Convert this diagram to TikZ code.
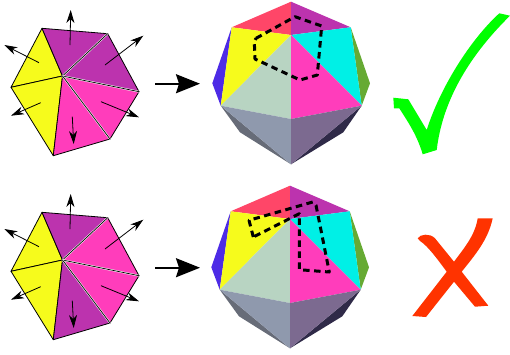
\documentclass[tikz,border=0pt]{standalone}
\usepackage{tikz}
\usetikzlibrary{arrows.meta}

\definecolor{faceyellow}{HTML}{F6FB1C}
\definecolor{facepurple}{HTML}{BC33AE}
\definecolor{facepink}{HTML}{FF3DBB}
\definecolor{facered}{HTML}{FF4668}
\definecolor{facecyan}{HTML}{00F0E6}
\definecolor{facepale}{HTML}{B8D4C2}
\definecolor{faceblue}{HTML}{4D2BE6}
\definecolor{facegreen}{HTML}{66AA33}
\definecolor{lowgrey}{HTML}{8F99AD}
\definecolor{lowmauve}{HTML}{7C6A90}
\definecolor{lowslate}{HTML}{676C78}
\definecolor{lowdark}{HTML}{2F2A48}
\definecolor{checkgreen}{HTML}{00FF00}
\definecolor{crossred}{HTML}{FF3300}

% flat net: colours of top, upper right, lower right and bottom faces
\newcommand{\flatnet}[4]{
	\coordinate (hub) at (62.5,76);
	\coordinate (nA) at (42,28.3);
	\coordinate (nB) at (107.7,33.7);
	\coordinate (nC) at (139,91.7);
	\coordinate (nD) at (110,139);
	\coordinate (nE) at (53.3,155.7);
	\coordinate (nF) at (11,87.3);
	\path [netface, fill=faceyellow] (hub) -- (nA) -- (nF) -- cycle;
	\path [netface, fill=faceyellow] (hub) -- (nF) -- (nE) -- cycle;
	\path [netface, fill=#1] (hub) -- (nA) -- (nB) -- cycle;
	\path [netface, fill=#2] (hub) -- (nB) -- (nC) -- cycle;
	\path [netface, fill=#3] (hub) -- (nC) -- (nD) -- cycle;
	\path [netface, fill=#4] (hub) -- (nD) -- (nE) -- cycle;
	\path [netseam] (hub) -- (nB);
	\path [netseam] (hub) -- (nC);
	\path [netseam] (hub) -- (nD);
	\coordinate (up1) at (70,45);
	\coordinate (up2) at (70.7,10);
	\coordinate (ur1) at (105,65);
	\coordinate (ur2) at (143.3,35.7);
	\coordinate (dr1) at (101,101.7);
	\coordinate (dr2) at (139,117.3);
	\coordinate (dn1) at (72.3,116.7);
	\coordinate (dn2) at (73.7,144);
	\coordinate (dl1) at (40.7,102.7);
	\coordinate (dl2) at (11,115.7);
	\coordinate (ul1) at (39,62.7);
	\coordinate (ul2) at (4.3,45);
	\draw [normal] (up1) -- (up2);
	\draw [normal] (ur1) -- (ur2);
	\draw [normal] (dr1) -- (dr2);
	\draw [normal] (dn1) -- (dn2);
	\draw [normal] (dl1) -- (dl2);
	\draw [normal] (ul1) -- (ul2);
	\coordinate (go1) at (155,83.7);
	\coordinate (go2) at (200,83.7);
	\draw [bigarrow] (go1) -- (go2);
}

% the folded solid
\newcommand{\solid}{
	\coordinate (top) at (291,1.7);
	\coordinate (midd) at (291,35);
	\coordinate (ul) at (231.7,27.3);
	\coordinate (ur) at (350.7,27.3);
	\coordinate (farl) at (212.3,83.3);
	\coordinate (farr) at (370,83.3);
	\coordinate (ll) at (220.7,105.7);
	\coordinate (lr) at (361.7,105.7);
	\coordinate (belt) at (291,119);
	\coordinate (outl) at (240,132.3);
	\coordinate (outr) at (343.3,132.3);
	\coordinate (tip) at (291,164.3);
	\fill [lowslate] (ll) -- (outl) -- (tip) -- cycle;
	\fill [lowdark] (lr) -- (outr) -- (tip) -- cycle;
	\fill [faceblue] (ul) -- (farl) -- (ll) -- cycle;
	\fill [facegreen] (ur) -- (farr) -- (lr) -- cycle;
	\fill [facered] (top) -- (ul) -- (midd) -- cycle;
	\fill [facepurple] (top) -- (ur) -- (midd) -- cycle;
	\fill [faceyellow] (ul) -- (midd) -- (ll) -- cycle;
	\fill [facecyan] (ur) -- (midd) -- (lr) -- cycle;
	\fill [facepale] (midd) -- (ll) -- (belt) -- cycle;
	\fill [facepink] (midd) -- (lr) -- (belt) -- cycle;
	\fill [lowgrey] (ll) -- (belt) -- (tip) -- cycle;
	\fill [lowmauve] (lr) -- (belt) -- (tip) -- cycle;
}

\begin{document}
\begin{tikzpicture}[x=1pt, y=-1pt]
	\tikzstyle{netface} = [draw=black, line width=0.8pt, line join=round]
	\tikzstyle{netseam} = [draw=white, line width=1.8pt, postaction={draw=black, line width=0.7pt}]
	\tikzstyle{normal} = [draw, line width=0.8pt, -{Stealth[length=13pt, width=8pt, inset=4pt]}]
	\tikzstyle{bigarrow} = [draw, line width=1.8pt, -{Stealth[length=24pt, width=19pt, inset=3pt]}]
	\tikzstyle{seamline} = [draw=black, line width=3pt, dash pattern=on 6.5pt off 4.5pt, line join=round]

	\useasboundingbox (0,0) rectangle (510,354);

	% good fold
	\flatnet{facepurple}{facepurple}{facepink}{facepink}
	\solid
	\path [seamline] (256,38.3) -- (295,16.7) -- (321.7,26) -- (317.3,75) -- (300,80) -- (255,59) -- (254.3,41.7) -- cycle;

	% bad fold
	\begin{scope}[yshift=-184pt]
		\flatnet{facepurple}{facepink}{facepink}{facepurple}
	\end{scope}
	\begin{scope}[xshift=-1pt, yshift=-184pt]
		\solid
	\end{scope}
	\path [seamline] (253.3,237) -- (249,220.3) -- (312.7,202) -- (316,205.3) -- (329.3,272) -- (299.3,269.7) -- (299.3,213.7) -- cycle;

	% check mark
	\fill [checkgreen] (393.3,97.7) -- (408.3,99.3) -- (426.7,130)
		.. controls (440,88) and (470,40) .. (499.3,13.3) -- (510,15.7)
		.. controls (465,60) and (442,105) .. (436.7,150) -- (422.7,154.3)
		.. controls (417,135) and (408,122) .. (399.3,108.3) -- (394,108.3) -- cycle;

	% cross mark
	\fill [crossred] (477.7,218.3) -- (492.7,218.3)
		.. controls (488,240) and (475,255) .. (461.7,271.7) -- (488.3,305.7) -- (475,306.7) -- (454,281.7)
		-- (426,317) -- (412.3,316) -- (446.7,271.7)
		.. controls (438,260) and (428,246) .. (420,241) -- (417.7,238.3)
		.. controls (420,234) and (430,233) .. (435,238.3) -- (454,261.7)
		.. controls (465,247) and (475,235) .. (477.7,218.3) -- cycle;
\end{tikzpicture}
\end{document}
